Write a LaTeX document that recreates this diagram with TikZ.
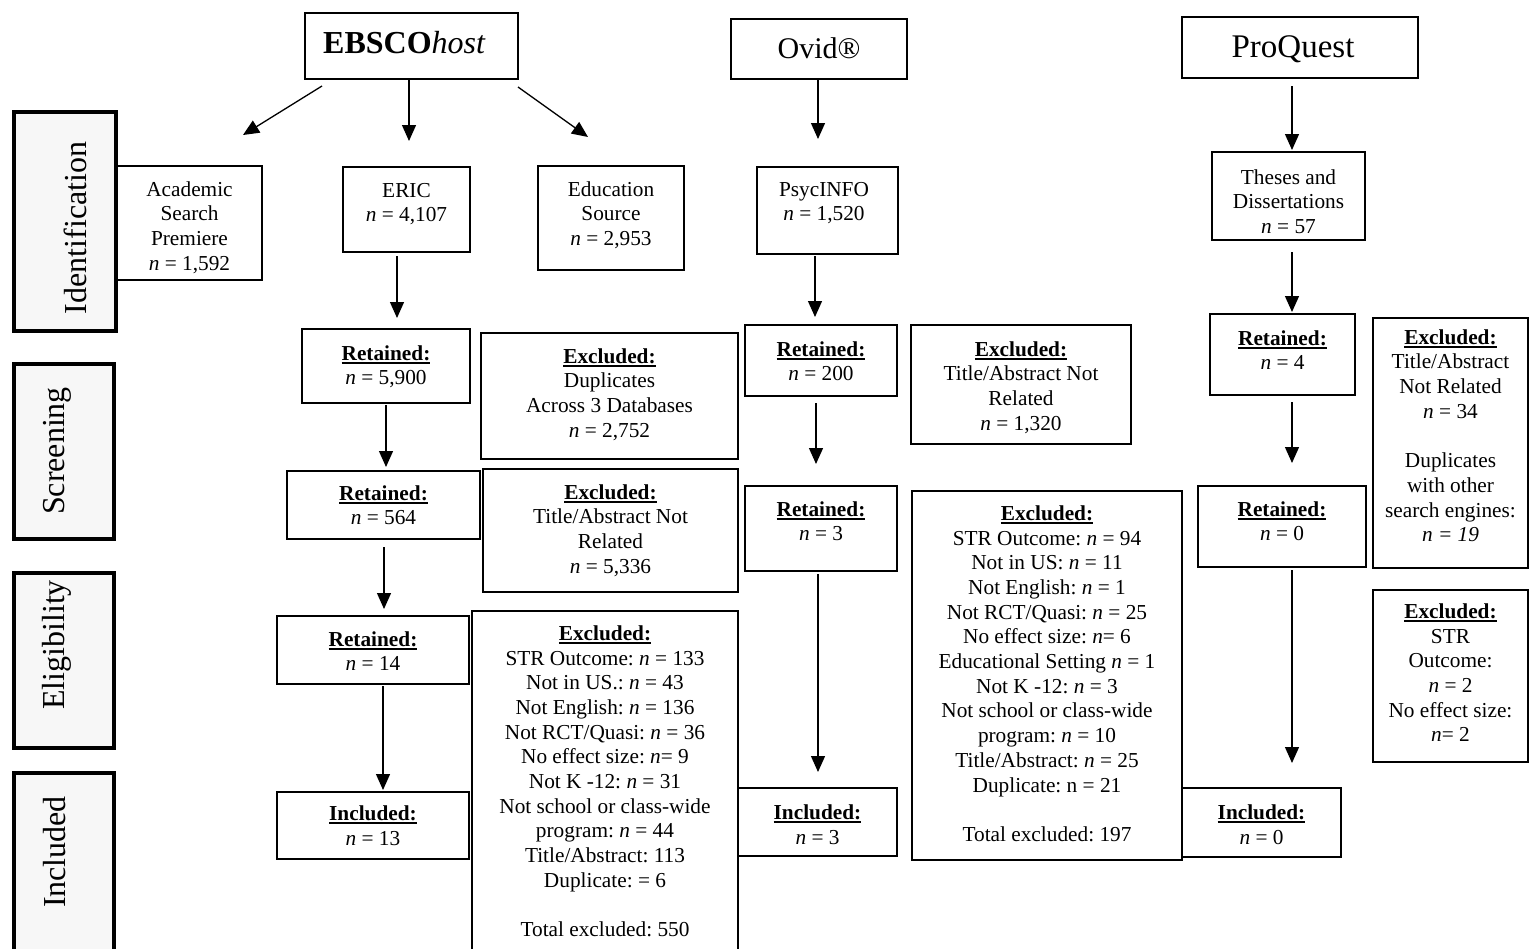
\documentclass[tikz,border=0pt]{standalone}
\usepackage{fontspec}
\setmainfont{Liberation Serif}
\usetikzlibrary{arrows.meta}
\frenchspacing
\newcommand{\ulb}[1]{\leavevmode\setbox0\hbox{\textbf{#1}}\rlap{\rule[-3.4pt]{\wd0}{1.5pt}}\box0}
\newcommand{\nn}{\textit{n}}
\newcommand{\bx}[5]{\node[box, minimum width={#4-#2}, minimum height={#5-#3}] (#1) at (#2,#3) {};}
\newcommand{\sg}[5]{\node[stage, minimum width={#4-#2}, minimum height={#5-#3}] (#1) at (#2,#3) {};}
\begin{document}
\begin{tikzpicture}[x=1pt,y=-1pt,
  box/.style={draw, line width=1.2pt, fill=white, inner sep=0pt, outer sep=0pt, anchor=north west},
  stage/.style={draw, line width=4.5pt, fill=black!3, inner sep=0pt, outer sep=0pt, anchor=north west},
  txt/.style={anchor=north, inner sep=0pt, align=center, yshift=10.2pt, font=\fontsize{21.3}{24.7}\selectfont\frenchspacing},
  stxt/.style={rotate=90, inner sep=0pt, font=\fontsize{32}{38}\selectfont},
  head/.style={inner sep=0pt},
  arr/.style={line width=1.3pt, -{Triangle[width=14pt,length=16pt]}}
]
\useasboundingbox (0,0) rectangle (1529,948);

% stage boxes
\sg{sid}{14}{112}{116}{331}
\sg{ssc}{14}{364}{114}{539}
\sg{sel}{14}{573}{114}{748}
\sg{sin}{14}{773}{114}{962}
\node[stxt] (sidT) at (75,228) {Identification};
\node[stxt] (sscT) at (57,451) {Screening};
\node[stxt] (selT) at (57,645) {Eligibility};
\node[stxt] (sinT) at (55,852) {Included};

% header boxes
\bx{eb}{305}{13}{518}{79}
\bx{ov}{731}{19}{907}{79}
\bx{pq}{1182}{17}{1418}{78}
\node[head, anchor=base west, font=\fontsize{32}{38}\selectfont] (ebT) at (323,53) {\textbf{EBSCO}\textit{host}};
\node[head, anchor=base, font=\fontsize{30}{36}\selectfont] (ovT) at (819,58) {Ovid®};
\node[head, anchor=base, font=\fontsize{33}{38}\selectfont] (pqT) at (1293,57) {ProQuest};

% identification row
\bx{acad}{117}{166}{262}{280}
\bx{eric}{343}{167}{470}{252}
\bx{eds}{538}{166}{684}{270}
\bx{psy}{757}{167}{898}{254}
\bx{the}{1212}{152}{1365}{240}
\node[txt] (acadT) at (189.5,189) {\strut Academic\\Search\\Premiere\\\nn{} = 1,592};
\node[txt] (ericT) at (406.5,190) {\strut ERIC\\\nn{} = 4,107};
\node[txt] (edsT) at (611,189) {\strut Education\\Source\\\nn{} = 2,953};
\node[txt] (psyT) at (824,189) {\strut PsycINFO\\\nn{} = 1,520};
\node[txt] (theT) at (1288.5,177) {\strut Theses and\\Dissertations\\\nn{} = 57};

% screening row 1
\bx{r1}{302}{329}{470}{403}
\bx{x1}{481}{333}{738}{459}
\bx{r2}{745}{325}{897}{396}
\bx{x2}{911}{325}{1131}{444}
\bx{r3}{1210}{314}{1355}{395}
\bx{x3}{1373}{318}{1528}{568}
\node[txt] (r1T) at (386,353) {\strut\ulb{Retained:}\\\nn{} = 5,900};
\node[txt] (x1T) at (609.5,356) {\strut\ulb{Excluded:}\\Duplicates\\Across 3 Databases\\\nn{} = 2,752};
\node[txt] (r2T) at (821,349) {\strut\ulb{Retained:}\\\nn{} = 200};
\node[txt] (x2T) at (1021,349) {\strut\ulb{Excluded:}\\Title/Abstract Not\\Related\\\nn{} = 1,320};
\node[txt] (r3T) at (1282.5,338) {\strut\ulb{Retained:}\\\nn{} = 4};
\node[txt] (x3T) at (1450.5,337) {\strut\ulb{Excluded:}\\Title/Abstract\\Not Related\\\nn{} = 34\\[24.7pt]Duplicates\\with other\\search engines:\\\textit{n = 19}};

% screening row 2
\bx{r4}{287}{471}{480}{539}
\bx{x4}{483}{469}{738}{592}
\bx{r5}{745}{486}{897}{571}
\bx{x5}{912}{491}{1182}{860}
\bx{r6}{1198}{486}{1366}{567}
\node[txt] (r4T) at (383.5,493) {\strut\ulb{Retained:}\\\nn{} = 564};
\node[txt] (x4T) at (610.5,492) {\strut\ulb{Excluded:}\\Title/Abstract Not\\Related\\\nn{} = 5,336};
\node[txt] (r5T) at (821,509) {\strut\ulb{Retained:}\\\nn{} = 3};
\node[txt] (x5T) at (1047,513) {\strut\ulb{Excluded:}\\STR Outcome: \nn{} = 94\\Not in US: \nn{} = 11\\Not English: \nn{} = 1\\Not RCT/Quasi: \nn{} = 25\\No effect size: \nn{}= 6\\Educational Setting \nn{} = 1\\Not K -12: \nn{} = 3\\Not school or class-wide\\program: \nn{} = 10\\Title/Abstract: \nn{} = 25\\Duplicate: n = 21\\[24.7pt]Total excluded: 197};
\node[txt] (r6T) at (1282,509) {\strut\ulb{Retained:}\\\nn{} = 0};

% eligibility row
\bx{r7}{277}{616}{469}{684}
\bx{x6}{472}{611}{738}{962}
\bx{x7}{1373}{590}{1528}{762}
\node[txt] (r7T) at (373,639) {\strut\ulb{Retained:}\\\nn{} = 14};
\node[txt] (x6T) at (605,633) {\strut\ulb{Excluded:}\\STR Outcome: \nn{} = 133\\Not in US.: \nn{} = 43\\Not English: \nn{} = 136\\Not RCT/Quasi: \nn{} = 36\\No effect size: \nn{}= 9\\Not K -12: \nn{} = 31\\Not school or class-wide\\program: \nn{} = 44\\Title/Abstract: 113\\Duplicate: = 6\\[24.7pt]Total excluded: 550};
\node[txt] (x7T) at (1450.5,611) {\strut\ulb{Excluded:}\\STR\\Outcome:\\\nn{} = 2\\No effect size:\\\nn{}= 2};

% included row
\bx{i1}{277}{792}{469}{859}
\bx{i2}{738}{788}{897}{856}
\bx{i3}{1182}{788}{1341}{857}
\node[txt] (i1T) at (373,813) {\strut\ulb{Included:}\\\nn{} = 13};
\node[txt] (i2T) at (817.5,812) {\strut\ulb{Included:}\\\nn{} = 3};
\node[txt] (i3T) at (1261.5,812) {\strut\ulb{Included:}\\\nn{} = 0};

% arrow end points
\coordinate (a1s) at (322,86);   \coordinate (a1e) at (243,135);
\coordinate (a2s) at (409,79);   \coordinate (a2e) at (409,141);
\coordinate (a3s) at (518,87);   \coordinate (a3e) at (588,137);
\coordinate (a4s) at (397,256);  \coordinate (a4e) at (397,318);
\coordinate (a5s) at (386,405);  \coordinate (a5e) at (386,467);
\coordinate (a6s) at (384,547);  \coordinate (a6e) at (384,609);
\coordinate (a7s) at (383,686);  \coordinate (a7e) at (383,790);
\coordinate (a8s) at (818,79);   \coordinate (a8e) at (818,139);
\coordinate (a9s) at (815,256);  \coordinate (a9e) at (815,317);
\coordinate (a10s) at (816,403); \coordinate (a10e) at (816,464);
\coordinate (a11s) at (818,574); \coordinate (a11e) at (818,772);
\coordinate (a12s) at (1292,86); \coordinate (a12e) at (1292,150);
\coordinate (a13s) at (1292,252);\coordinate (a13e) at (1292,312);
\coordinate (a14s) at (1292,402);\coordinate (a14e) at (1292,463);
\coordinate (a15s) at (1292,570);\coordinate (a15e) at (1292,763);
\foreach \i in {1,...,15} { \draw[arr] (a\i s) -- (a\i e); }
\end{tikzpicture}
\end{document}
